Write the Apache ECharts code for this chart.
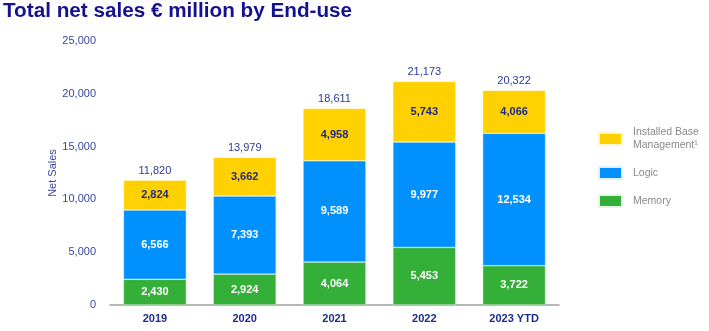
<!DOCTYPE html>
<html>
<head>
<meta charset="utf-8">
<script src="https://cdn.jsdelivr.net/npm/echarts@6/dist/echarts.min.js"></script>
<style>
  html, body { margin: 0; padding: 0; background: #fff; }
  #chart { width: 709px; height: 331px; }
</style>
</head>
<body>
<div id="chart"></div>
<script>
// Net sales by end-use, € million
const categories = ['2019', '2020', '2021', '2022', '2023 YTD'];
const memory = [2430, 2924, 4064, 5453, 3722];
const logic = [6566, 7393, 9589, 9977, 12534];
const installedBase = [2824, 3662, 4958, 5743, 4066];
const totals = [11820, 13979, 18611, 21173, 20322];
const yTicks = [0, 5000, 10000, 15000, 20000, 25000];

const navy = '#1f2a8a';
const fmt = v => v.toLocaleString('en-US');
const font = 'Arial, "Liberation Sans", sans-serif';

const chart = echarts.init(document.getElementById('chart'));

const innerLabel = color => ({
  show: true,
  position: 'inside',
  color: color,
  fontFamily: font,
  fontWeight: 'bold',
  fontSize: 11,
  formatter: p => fmt(p.value)
});

chart.setOption({
  animation: false,
  title: {
    text: 'Total net sales € million by End-use',
    left: 3,
    top: 1,
    padding: 0,
    textStyle: { color: '#16128f', fontFamily: font, fontWeight: 'bold', fontSize: 20.7 }
  },
  legend: {
    orient: 'vertical',
    left: 598,
    top: 126,
    icon: 'rect',
    itemWidth: 23,
    itemHeight: 12,
    itemGap: 14,
    padding: 0,
    textStyle: { color: '#8a8a8a', fontFamily: font, fontSize: 10.5, lineHeight: 13, padding: [0, 0, 0, 6] },
    data: ['Installed Base\nManagement¹', 'Logic', 'Memory']
  },
  grid: { left: 110, right: 150, top: 41, bottom: 26 },
  xAxis: {
    type: 'category',
    data: categories,
    axisLine: { lineStyle: { color: '#a0a0a0', width: 1.5 } },
    axisTick: { show: false },
    axisLabel: { color: navy, fontFamily: font, fontWeight: 'bold', fontSize: 11, margin: 8 }
  },
  yAxis: {
    type: 'value',
    min: yTicks[0],
    max: yTicks[yTicks.length - 1],
    interval: yTicks[1] - yTicks[0],
    name: 'Net Sales',
    nameLocation: 'middle',
    nameGap: 52,
    nameMoveOverlap: false,
    nameTextStyle: { color: '#3a46a0', fontFamily: font, fontSize: 11 },
    axisLine: { show: false },
    axisTick: { show: false },
    splitLine: { show: false },
    axisLabel: { color: '#3a46a0', fontFamily: font, fontSize: 11, margin: 14, formatter: v => fmt(v) }
  },
  series: [
    {
      name: 'Memory',
      type: 'bar',
      stack: 'sales',
      barWidth: '70%',
      data: memory,
      itemStyle: { color: '#34af38', borderColor: '#e8f6e8', borderWidth: 0.5 },
      label: innerLabel('#ffffff')
    },
    {
      name: 'Logic',
      type: 'bar',
      stack: 'sales',
      data: logic,
      itemStyle: { color: '#0091ff', borderColor: '#e0f0ff', borderWidth: 0.5 },
      label: innerLabel('#ffffff')
    },
    {
      name: 'Installed Base\nManagement¹',
      type: 'bar',
      stack: 'sales',
      data: installedBase,
      itemStyle: { color: '#ffd100', borderColor: '#fff6cc', borderWidth: 0.5 },
      label: innerLabel(navy)
    },
    {
      // transparent cap carrying the total for each year
      name: 'Total',
      type: 'bar',
      stack: 'sales',
      data: totals.map(() => 0),
      itemStyle: { color: 'transparent' },
      label: {
        show: true,
        position: 'top',
        distance: 4,
        color: '#2c3a96',
        fontFamily: font,
        fontSize: 11,
        formatter: p => fmt(totals[p.dataIndex])
      }
    }
  ]
});
</script>
</body>
</html>
